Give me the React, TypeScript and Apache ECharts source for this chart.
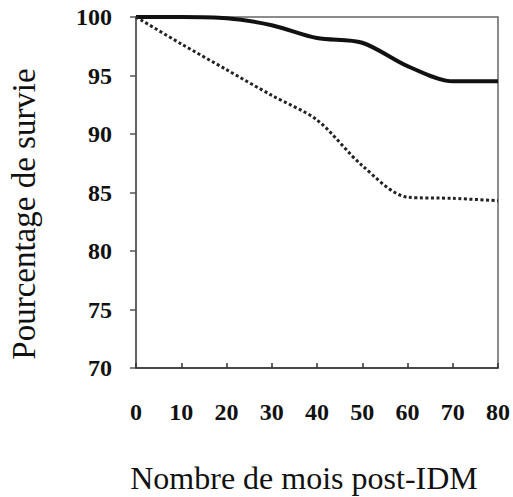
import React, { useEffect, useRef } from "react";
import * as echarts from "echarts";

const months = [0, 10, 20, 30, 40, 50, 60, 70, 80];
const survieSolide = [100, 100, 99.9, 99.3, 98.2, 97.8, 95.8, 94.5, 94.5];
const survieTirets = [100, 97.7, 95.5, 93.3, 91.2, 87.3, 84.6, 84.5, 84.3];
const yTicks = [70, 75, 80, 85, 90, 95, 100];
const yName = "Pourcentage de survie";
const xName = "Nombre de mois post-IDM";

export default function App() {
  const ref = useRef<HTMLDivElement>(null);
  useEffect(() => {
    if (!ref.current) return;
    const chart = echarts.init(ref.current, null, { renderer: "svg" });
    const serif = "Liberation Serif";
    chart.setOption({
      animation: false,
      backgroundColor: "#ffffff",
      grid: {
        left: 136,
        top: 17,
        right: 15,
        bottom: 129,
        show: true,
        borderColor: "#666",
        borderWidth: 1.5,
      },
      xAxis: {
        type: "value",
        min: 0,
        max: 80,
        interval: 10,
        axisLine: { show: true, lineStyle: { color: "#333", width: 1.5 } },
        axisTick: { show: true, inside: true, length: 5, lineStyle: { color: "#333", width: 1.5 } },
        splitLine: { show: false },
        axisLabel: {
          margin: 32,
          fontFamily: serif,
          fontWeight: "bold",
          fontSize: 24,
          color: "#111",
        },
      },
      yAxis: {
        type: "value",
        min: yTicks[0],
        max: yTicks[yTicks.length - 1],
        interval: 5,
        axisLine: { show: true, lineStyle: { color: "#555", width: 1.5 } },
        axisTick: { show: true, inside: false, length: 6, lineStyle: { color: "#555", width: 1.5 } },
        splitLine: { show: false },
        axisLabel: {
          margin: 24,
          fontFamily: serif,
          fontWeight: "bold",
          fontSize: 24,
          color: "#111",
        },
      },
      graphic: [
        {
          type: "text",
          x: 24,
          y: 214,
          rotation: Math.PI / 2,
          style: {
            text: yName,
            fontFamily: serif,
            fontSize: 33,
            fill: "#111",
            textAlign: "center",
            textVerticalAlign: "middle",
          },
        },
        {
          type: "text",
          x: 304,
          y: 478,
          style: {
            text: xName,
            fontFamily: serif,
            fontSize: 32,
            fill: "#111",
            textAlign: "center",
            textVerticalAlign: "middle",
          },
        },
      ],
      series: [
        {
          type: "line",
          data: months.map((m, i) => [m, survieSolide[i]]),
          showSymbol: false,
          smooth: 0.3,
          lineStyle: { color: "#111", width: 4 },
          z: 3,
        },
        {
          type: "line",
          data: months.map((m, i) => [m, survieTirets[i]]),
          showSymbol: false,
          smooth: 0.3,
          lineStyle: { color: "#222", width: 3, type: [3, 2.5] },
          z: 3,
        },
      ],
    });
    return () => chart.dispose();
  }, []);
  return (
    <div
      ref={ref}
      style={{ position: "fixed", left: 0, top: 0, width: 513, height: 497 }}
    />
  );
}
